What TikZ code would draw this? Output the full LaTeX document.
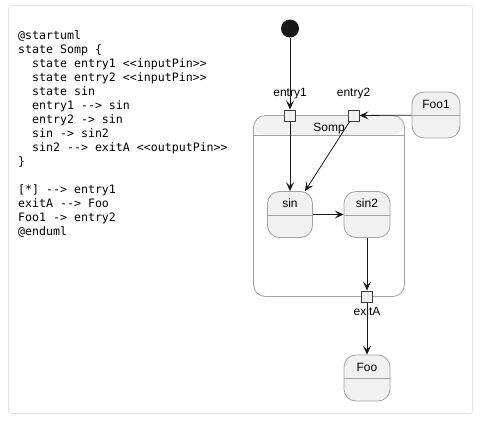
\documentclass[tikz,border=0pt]{standalone}
\usepackage{fontspec}
\setmainfont{Liberation Sans}
\setmonofont{DejaVu Sans Mono}
\usetikzlibrary{positioning,arrows.meta}

\definecolor{statefill}{HTML}{F1F1F1}
\definecolor{stateline}{HTML}{A2A2A2}
\definecolor{umlline}{HTML}{181818}
\definecolor{pinline}{HTML}{3A3A3A}
\definecolor{framegray}{HTML}{E3E3E3}

\tikzset{
  umlstate/.style={draw=stateline, fill=statefill, rounded corners=12pt, line width=0.8pt,
    minimum width=46pt, minimum height=46pt, inner sep=0pt,
    label={[anchor=center, yshift=-12.5pt]north:#1},
    path picture={\draw[stateline, line width=0.8pt]
      ([yshift=-23.5pt]path picture bounding box.north west) --
      ([yshift=-23.5pt]path picture bounding box.north east);}},
  sompbox/.style={draw=stateline, fill=white, rounded corners=12pt, line width=0.8pt,
    minimum width=151pt, minimum height=181pt, inner sep=0pt,
    label={[anchor=center, yshift=-13pt]north:#1},
    path picture={\fill[statefill] (path picture bounding box.north west) rectangle
      ([yshift=-19.5pt]path picture bounding box.north east);
      \draw[stateline, line width=0.8pt]
      ([yshift=-19.5pt]path picture bounding box.north west) --
      ([yshift=-19.5pt]path picture bounding box.north east);}},
  umlpin/.style={draw=pinline, fill=statefill, minimum size=11pt, inner sep=0pt, line width=1pt},
  pinlabel/.style={inner sep=0pt},
  umlarrow/.style={draw=umlline, line width=0.8pt, -{Stealth[length=9pt, width=8pt, inset=4pt]}},
}

\begin{document}
\begin{tikzpicture}[x=1pt, y=-1pt, every node/.style={font=\fontsize{12}{14}\selectfont}]
  \useasboundingbox (0,0) rectangle (495,421);
  % frame
  \draw[framegray, line width=0.8pt, rounded corners=3pt] (8.5,5.5) rectangle (472.5,413.5);

  % source text
  \node[anchor=north west, inner sep=0pt, align=left, font=\ttfamily\fontsize{11.6}{14}\selectfont] (code) at (18,30.3) {%
    @startuml\\
    state Somp \{\\
    \hphantom{xx}state entry1 <<inputPin>>\\
    \hphantom{xx}state entry2 <<inputPin>>\\
    \hphantom{xx}state sin\\
    \hphantom{xx}entry1 --> sin\\
    \hphantom{xx}entry2 -> sin\\
    \hphantom{xx}sin -> sin2\\
    \hphantom{xx}sin2 --> exitA <<outputPin>>\\
    \}\\
    \strut\\
    {}[*] --> entry1\\
    exitA --> Foo\\
    Foo1 -> entry2\\
    @enduml};

  % states
  \node[circle, fill=umlline, minimum size=18pt, inner sep=0pt] (init) at (290,28.5) {};
  \node[sompbox=Somp] (somp) at (329,206) {};
  \node[umlpin] (entry1) at (290,115.5) {};
  \node[umlpin] (entry2) at (353.5,115.5) {};
  \node[umlpin] (exitA) at (367,296.5) {};
  \node[pinlabel, above=10.5pt of entry1] (entry1lbl) {entry1};
  \node[pinlabel, above=10.5pt of entry2] (entry2lbl) {entry2};
  \node[pinlabel, below=4pt of exitA] (exitAlbl) {exitA};
  \node[umlstate=Foo1, minimum width=48pt] (foo1) at (436,115) {};
  \node[umlstate=sin, minimum width=45pt] (sin) at (290,214.5) {};
  \node[umlstate=sin2] (sin2) at (367,214.5) {};
  \node[umlstate=Foo] (foo) at (367,378) {};

  % transitions
  \draw[umlarrow] (init) -- (entry1);
  \draw[umlarrow] (entry1) -- (sin);
  \draw[umlarrow] (entry2) -- (sin);
  \draw[umlarrow] (foo1) -- (entry2);
  \draw[umlarrow] (sin) -- (sin2);
  \draw[umlarrow] (sin2) -- (exitA);
  \draw[umlarrow] (exitA) -- (foo);
\end{tikzpicture}
\end{document}
